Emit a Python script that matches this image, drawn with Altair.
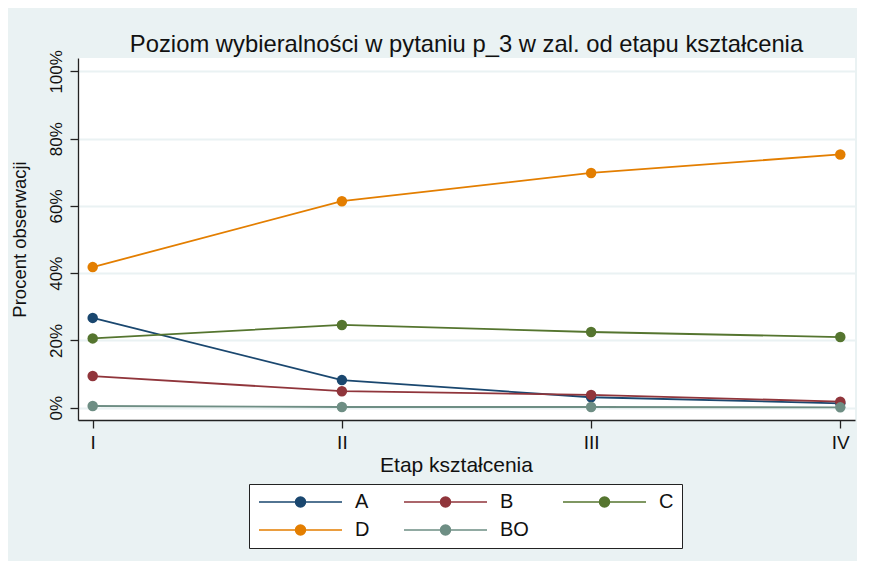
import altair as alt
import pandas as pd

# ---- data ----
stages = ["I", "II", "III", "IV"]
series = ["A", "B", "C", "D", "BO"]
val_A = [26.7, 8.2, 3.1, 1.3]
val_B = [9.4, 4.9, 3.8, 1.8]
val_C = [20.6, 24.6, 22.5, 21.0]
val_D = [41.8, 61.4, 69.8, 75.3]
val_BO = [0.5, 0.2, 0.2, 0.1]
colors = ["#1a476f", "#90353b", "#55752f", "#e37e00", "#6e8e84"]
y_ticks = [0, 20, 40, 60, 80, 100]

values = {"A": val_A, "B": val_B, "C": val_C, "D": val_D, "BO": val_BO}
rows = []
for s in series:
    for st, v in zip(stages, values[s]):
        rows.append({"etap": st, "odp": s, "pct": v})
df = pd.DataFrame(rows)

FONT = "Liberation Sans"
sym_path = "M-1.6,0H15M5.7,0A1,1,0,1,1,7.7,0A1,1,0,1,1,5.7,0Z"

color = alt.Color(
    "odp:N",
    sort=series,
    scale=alt.Scale(domain=series, range=colors),
    legend=alt.Legend(
        title=None,
        orient="none",
        legendX=171,
        legendY=426,
        direction="horizontal",
        columns=3,
        columnPadding=31,
        rowPadding=8,
        padding=8,
        labelFont=FONT,
        labelFontSize=20,
        labelColor="#111",
        labelOffset=78,
        symbolType=sym_path,
        symbolSize=100,
        symbolStrokeWidth=1.5,
        symbolOpacity=1,
        strokeColor="#222",
        fillColor="white",
        cornerRadius=0,
    ),
)

base = alt.Chart(df).encode(
    x=alt.X(
        "etap:O",
        sort=stages,
        scale=alt.Scale(type="point", padding=0.059),
        axis=alt.Axis(
            title="Etap kształcenia",
            titleX=378,
            titleAlign="center",
            labelAngle=0,
            labelFont=FONT,
            labelFontSize=19,
            labelColor="#111",
            labelPadding=5,
            titleFont=FONT,
            titleFontSize=21,
            titleFontWeight="normal",
            titleColor="#111",
            titlePadding=2,
            tickSize=8,
            tickColor="#222",
            tickWidth=1.3,
            domainColor="#222",
            domainWidth=1.3,
            grid=False,
        ),
    ),
    y=alt.Y(
        "pct:Q",
        scale=alt.Scale(domain=[-3.66, 103.97], nice=False, zero=False),
        axis=alt.Axis(
            title="Procent obserwacji",
            values=y_ticks,
            labelExpr="datum.value + '%'",
            labelAngle=270,
            labelAlign="center",
            labelBaseline="alphabetic",
            labelFont=FONT,
            labelFontSize=17,
            labelColor="#111",
            labelPadding=9,
            titleFont=FONT,
            titleFontSize=18.5,
            titleFontWeight="normal",
            titleColor="#111",
            titlePadding=18,
            tickSize=8,
            tickColor="#222",
            tickWidth=1.3,
            domainColor="#222",
            domainWidth=1.3,
            grid=True,
            gridColor="#eaf2f3",
            gridWidth=1.8,
        ),
    ),
    color=color,
)

lines = base.mark_line(strokeWidth=1.8)
points = base.mark_point(filled=True, size=110, opacity=1)

chart = (
    alt.layer(lines, points)
    .properties(
        width=777,
        height=362,
        background="#eaf2f3",
        padding={"left": 2, "top": 24, "right": 2, "bottom": 12},
        title=alt.Title(
            "Poziom wybieralności w pytaniu p_3 w zal. od etapu kształcenia",
            font=FONT,
            fontSize=23.8,
            fontWeight="normal",
            color="#111",
            anchor="middle",
            frame="group",
            offset=-7,
        ),
    )
    .configure_view(fill="white", stroke=None)
)

chart.save("out.html", embed_options={"renderer": "svg", "actions": False})
